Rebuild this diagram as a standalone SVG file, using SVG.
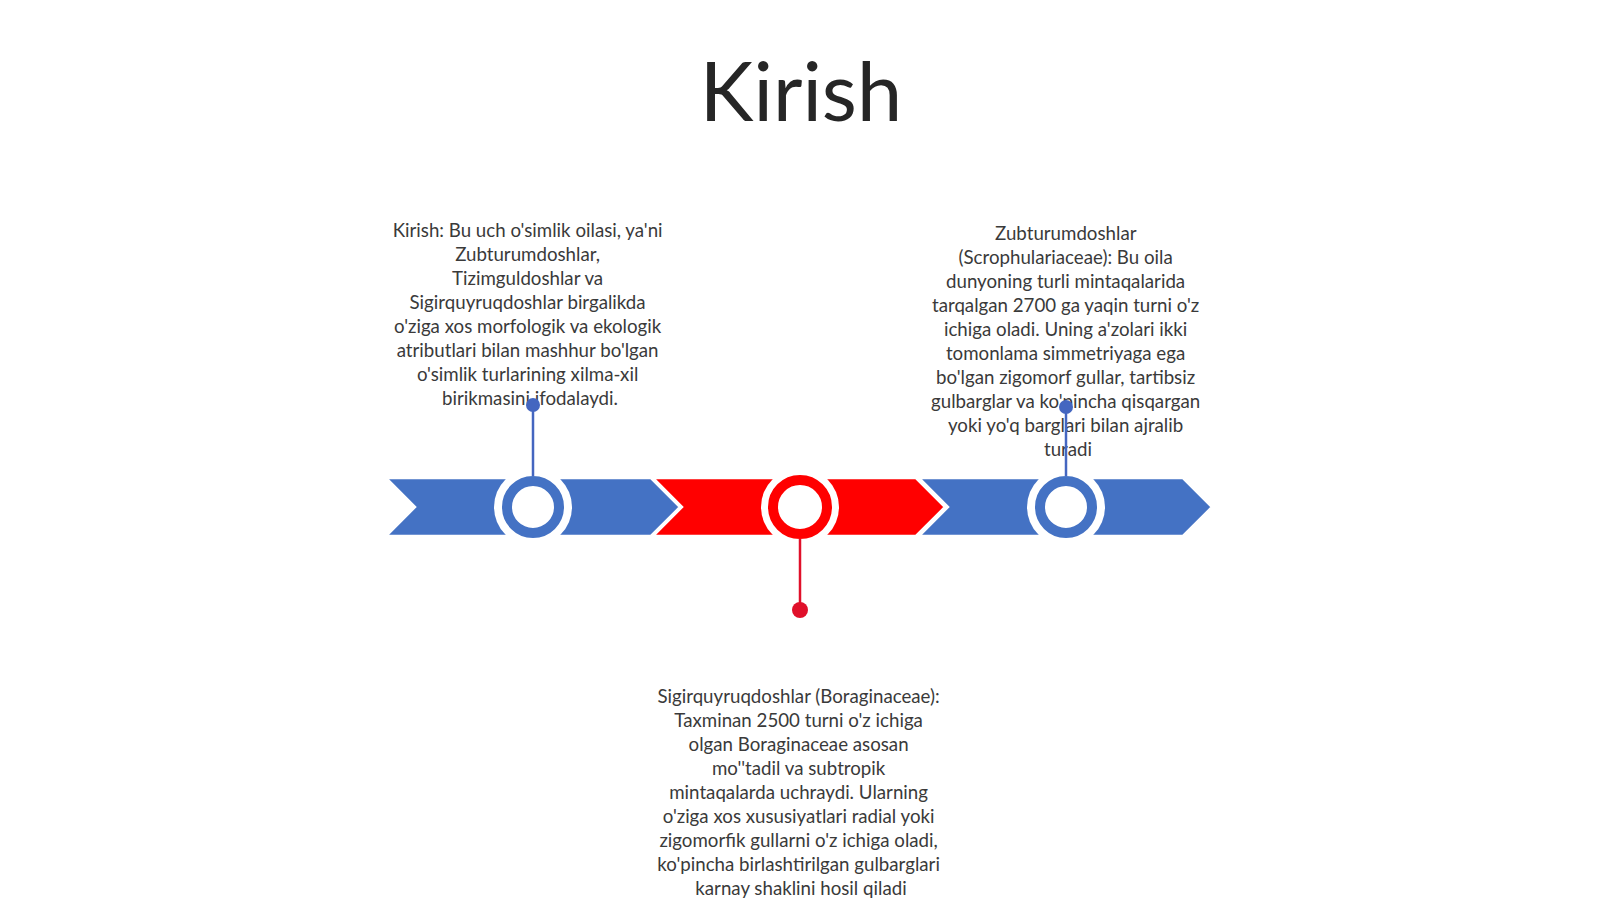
<svg xmlns="http://www.w3.org/2000/svg" width="1600" height="899" viewBox="0 0 1600 899">
  <style>
    .title { font-family: Lato, "Liberation Sans", sans-serif; font-size: 81px; fill: #262626; text-anchor: middle; }
    .body { font-family: Lato, "Liberation Sans", sans-serif; font-size: 18.7px; fill: #3a3a3a; text-anchor: middle; }
    .chev { stroke: #ffffff; stroke-width: 2.5; stroke-linejoin: miter; }
    .blue { fill: #4472C4; }
    .red { fill: #FF0000; }
    .halo { fill: #ffffff; }
    .ringb { fill: #ffffff; stroke: #4472C4; stroke-width: 10; }
    .ringr { fill: #ffffff; stroke: #FF0000; stroke-width: 10; }
    .lineb { stroke: #4466C0; stroke-width: 2.5; fill: none; }
    .liner { stroke: #E0102A; stroke-width: 2.5; fill: none; }
  </style>
  <rect x="0" y="0" width="1600" height="899" fill="#ffffff"/>
  <text class="title" x="801" y="121">Kirish</text>

  <g id="node1">
    <polygon class="chev blue" points="386,478 651,478 680,507 651,536 386,536 415,507"/>
    <circle class="halo" cx="533" cy="507" r="39"/>
    <circle class="ringb" cx="533" cy="507" r="26"/>
    <text class="body" x="530" y="237">
      <tspan x="530" dy="0">Kirish: Bu uch o'simlik oilasi, ya'ni</tspan>
      <tspan x="530" dy="24">Zubturumdoshlar,</tspan>
      <tspan x="530" dy="24">Tizimguldoshlar va</tspan>
      <tspan x="530" dy="24">Sigirquyruqdoshlar birgalikda</tspan>
      <tspan x="530" dy="24">o'ziga xos morfologik va ekologik</tspan>
      <tspan x="530" dy="24">atributlari bilan mashhur bo'lgan</tspan>
      <tspan x="530" dy="24">o'simlik turlarining xilma-xil</tspan>
      <tspan x="530" dy="24">birikmasini ifodalaydi.</tspan>
    </text>
  </g>

  <g id="node2">
    <polygon class="chev red" points="653,478 916,478 945,507 916,536 653,536 682,507"/>
    <circle class="halo" cx="800" cy="507" r="39"/>
    <circle class="ringr" cx="800" cy="507" r="27"/>
    <text class="body" x="801" y="703">
      <tspan x="801" dy="0">Sigirquyruqdoshlar (Boraginaceae):</tspan>
      <tspan x="801" dy="24">Taxminan 2500 turni o'z ichiga</tspan>
      <tspan x="801" dy="24">olgan Boraginaceae asosan</tspan>
      <tspan x="801" dy="24">mo''tadil va subtropik</tspan>
      <tspan x="801" dy="24">mintaqalarda uchraydi. Ularning</tspan>
      <tspan x="801" dy="24">o'ziga xos xususiyatlari radial yoki</tspan>
      <tspan x="801" dy="24">zigomorfik gullarni o'z ichiga oladi,</tspan>
      <tspan x="801" dy="24">ko'pincha birlashtirilgan gulbarglari</tspan>
      <tspan x="801" dy="24">karnay shaklini hosil qiladi</tspan>
    </text>
  </g>

  <g id="node3">
    <polygon class="chev blue" points="919,478 1183,478 1212,507 1183,536 919,536 948,507"/>
    <circle class="halo" cx="1066" cy="507" r="39"/>
    <circle class="ringb" cx="1066" cy="507" r="26"/>
    <text class="body" x="1068" y="240">
      <tspan x="1068" dy="0">Zubturumdoshlar</tspan>
      <tspan x="1068" dy="24">(Scrophulariaceae): Bu oila</tspan>
      <tspan x="1068" dy="24">dunyoning turli mintaqalarida</tspan>
      <tspan x="1068" dy="24">tarqalgan 2700 ga yaqin turni o'z</tspan>
      <tspan x="1068" dy="24">ichiga oladi. Uning a'zolari ikki</tspan>
      <tspan x="1068" dy="24">tomonlama simmetriyaga ega</tspan>
      <tspan x="1068" dy="24">bo'lgan zigomorf gullar, tartibsiz</tspan>
      <tspan x="1068" dy="24">gulbarglar va ko'pincha qisqargan</tspan>
      <tspan x="1068" dy="24">yoki yo'q barglari bilan ajralib</tspan>
      <tspan x="1068" dy="24">turadi</tspan>
    </text>
  </g>

  <g id="connectors">
    <line class="lineb" x1="533" y1="476" x2="533" y2="405"/>
    <circle cx="533" cy="405" r="7" fill="#4466C0"/>
    <line class="liner" x1="800" y1="539" x2="800" y2="610"/>
    <circle cx="800" cy="610" r="8" fill="#E0102A"/>
    <line class="lineb" x1="1066" y1="476" x2="1066" y2="407"/>
    <circle cx="1066" cy="407" r="7" fill="#4466C0"/>
  </g>
</svg>
